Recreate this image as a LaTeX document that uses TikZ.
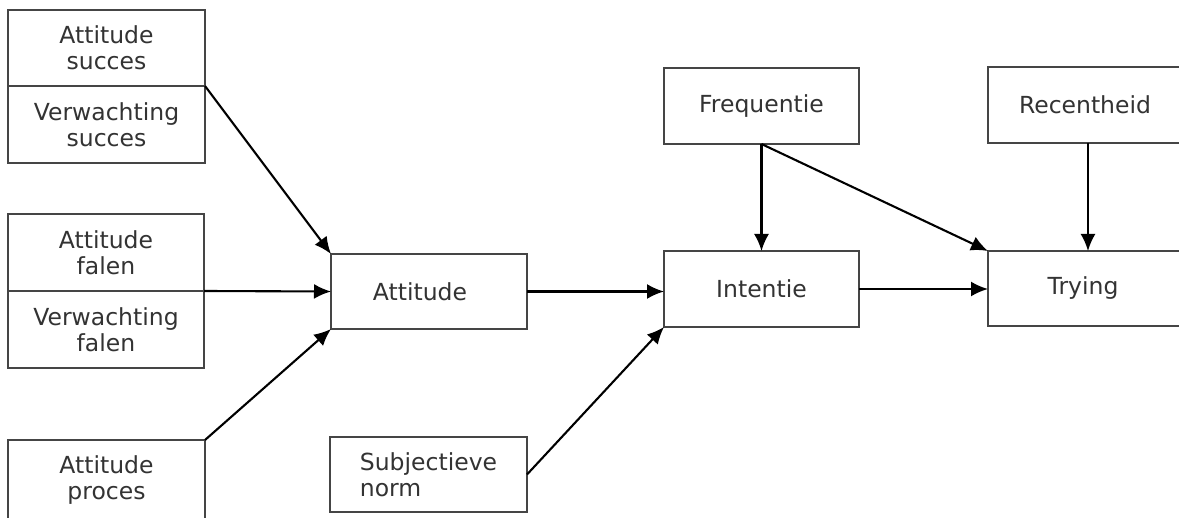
\documentclass[tikz,border=0pt]{standalone}
\usepackage{fontspec}
\setmainfont{DejaVu Sans}
\usetikzlibrary{arrows.meta}
\definecolor{boxgray}{HTML}{454545}
\definecolor{txtgray}{HTML}{333333}
\tikzset{
  box/.style={draw=boxgray, line width=2pt, anchor=north west, inner sep=0pt, outer sep=0pt,
    align=center, text=txtgray, font=\fontsize{23.5}{26}\selectfont},
  conn/.style={line width=2.1pt, -{Latex[length=17pt,width=15pt]}}
}
\begin{document}
\begin{tikzpicture}[x=1pt,y=-1pt]
\useasboundingbox (0,0) rectangle (1179,518);
\clip (0,0) rectangle (1179,518);
\fill[white] (0,0) rectangle (1179,518);
% left column
\node[box, minimum width=197pt, minimum height=76pt] (sucA) at (8,10) {Attitude\\succes};
\node[box, minimum width=197pt, minimum height=77pt] (sucV) at (8,86) {Verwachting\\succes};
\node[box, minimum width=196pt, minimum height=77pt] (falA) at (8,214) {Attitude\\falen};
\node[box, minimum width=196pt, minimum height=77pt] (falV) at (8,291) {Verwachting\\falen};
\node[box, minimum width=197pt, minimum height=80pt] (proc) at (8,440) {Attitude\\proces};
% middle column
\node[box, minimum width=196pt, minimum height=75pt] (att) at (331,254) {Attitude\hspace*{18pt}};
\node[box, minimum width=197pt, minimum height=75pt, align=left] (subj) at (330,437) {Subjectieve\\norm};
% right part
\node[box, minimum width=195pt, minimum height=76pt] (freq) at (664,68) {Frequentie};
\node[box, minimum width=195pt, minimum height=76pt] (int) at (664,251) {Intentie};
\node[box, minimum width=200pt, minimum height=76pt] (rec) at (988,67) {Recentheid\hspace*{6pt}};
\node[box, minimum width=200pt, minimum height=75pt] (try) at (988,251) {Trying\hspace*{10pt}};
% connectors
\draw[conn] (sucA.south east) -- (att.north west);
\draw[conn] (falA.south east) -- (att.west);
\draw[conn] (proc.north east) -- (att.south west);
\draw[conn] (att.east) -- (att.east -| int.west);
\draw[conn] (subj.east) -- (int.south west);
\draw[conn] (freq.south) -- (int.north);
\draw[conn] (freq.south) -- (try.north west);
\draw[conn] (rec.south) -- (rec.south |- try.north);
\draw[conn] (int.east) -- (int.east -| try.west);
\end{tikzpicture}
\end{document}
